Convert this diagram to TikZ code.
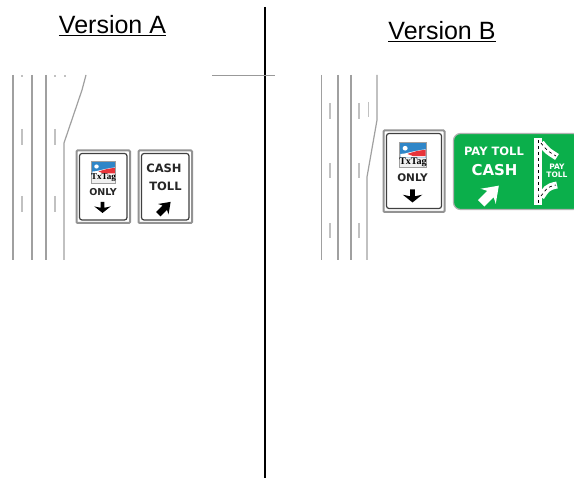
\documentclass[tikz,border=0pt]{standalone}
\usepackage{fontspec}
\setmainfont{Liberation Sans}
\newfontfamily\signfont{DejaVu Sans}
\newfontfamily\tagfont{Liberation Serif}
\definecolor{signgreen}{HTML}{0BAF4B}
\definecolor{tagblue}{HTML}{2F86C8}
\definecolor{tagred}{HTML}{E8343A}
\definecolor{roadgray}{HTML}{A0A0A0}
\tikzset{
  title/.style={font=\fontsize{25}{28}\selectfont,inner sep=0pt,text=black},
  road/.style={draw=roadgray,line width=1.2pt},
  lanedash/.style={draw=roadgray!65,line width=1.3pt},
  signouter/.style={draw=gray!85,line width=2pt,fill=white,rounded corners=1pt},
  signinner/.style={draw=black!75,line width=1.2pt,rounded corners=2.5pt},
  blacktext/.style={text=black!85,inner sep=0pt},
  whitetext/.style={text=white,inner sep=0pt},
}
\newcommand{\txlogo}[4]{% x y w h
  \begin{scope}[shift={(#1,#2)},x=#3pt,y=-#4pt]
    \fill[gray!75] (0,0) rectangle (1,1);
    \fill[black!6] (0.05,0.6) rectangle (0.95,0.96);
    \fill[tagblue] (0.05,0.04) rectangle (0.95,0.6);
    \fill[white] (0.05,0.6) -- (0.05,0.46) .. controls (0.25,0.46) and (0.4,0.36) .. (0.95,0.28) -- (0.95,0.6) -- cycle;
    \fill[tagred] (0.3,0.46) .. controls (0.5,0.38) and (0.7,0.32) .. (0.95,0.3) -- (0.95,0.54) -- (0.5,0.54) -- cycle;
    \fill[white] (0.22,0.24) circle (0.09);
  \end{scope}
}
% colour x y rotation size headhalfwidth
\newcommand{\sarrow}[6]{%
  \fill[#1,shift={(#2,#3)},rotate=#4,scale=#5]
    (-1,-.36) -- (.05,-.36) -- (-.2,-#6) -- (1,0) -- (-.2,#6) -- (.05,.36) -- (-1,.36) -- cycle;
}
\begin{document}
\begin{tikzpicture}[x=1pt,y=-1pt]
\useasboundingbox[fill=white] (0,0) rectangle (574,478);
% titles
\node[title] (ta) at (112.5,26) {\underline{Version A}};
\node[title] (tb) at (442,32) {\underline{Version B}};
% divider
\coordinate (d1) at (265,7); \coordinate (d2) at (265,478);
\draw[line width=2.4pt] (d1) -- (d2);
\coordinate (h1) at (212,75.5); \coordinate (h2) at (275,75.5);
\draw[draw=gray!80,line width=0.7pt] (h1) -- (h2);
% left road
\foreach \x in {13,32,46} \draw[road] (\x,75) -- (\x,260);
\draw[road] (64,260) -- (64,143) -- (82,90) -- (86,75);
\foreach \x in {22,55} {
  \draw[lanedash] (\x,129) -- (\x,145);
  \draw[lanedash] (\x,196) -- (\x,212);
  \draw[lanedash] (\x,75) -- (\x,77);
}
\draw[lanedash] (65,75) -- (65,77);
% right road
\foreach \x in {321.5,338,351} \draw[road] (\x,75) -- (\x,260);
\draw[road] (377,75) -- (377,120) -- (367,177) -- (367,260);
\foreach \x in {330,359} {
  \draw[lanedash] (\x,103) -- (\x,119);
  \draw[lanedash] (\x,163) -- (\x,178);
  \draw[lanedash] (\x,223) -- (\x,238);
}
\draw[lanedash] (368.5,102) -- (368.5,117);
% sign A1
\draw[signouter] (76.5,150.5) rectangle (130,223);
\draw[signinner] (79.5,153.5) rectangle (127,220);
\txlogo{91}{161}{25}{23}
\node[font=\tagfont\bfseries\fontsize{9}{10}\selectfont,inner sep=0pt] (la) at (103.5,178) {TxTag};
\node[blacktext,font=\signfont\bfseries\fontsize{9.5}{11}\selectfont] (oa) at (103,192.5) {ONLY};
\sarrow{black}{102.5}{207.5}{-90}{5.5}{1.5}
% sign A2
\draw[signouter] (138.5,150.5) rectangle (192,223);
\draw[signinner] (141.5,153.5) rectangle (189,220);
\node[blacktext,font=\signfont\bfseries\fontsize{11.5}{13}\selectfont] (ca) at (164,168) {CASH};
\node[blacktext,font=\signfont\bfseries\fontsize{11.5}{13}\selectfont] (tola) at (165.5,186) {TOLL};
\sarrow{black}{164.5}{208}{45}{8.7}{.85}
% sign B1
\draw[signouter] (383.5,130.5) rectangle (444.5,212);
\draw[signinner] (386.5,133.5) rectangle (441.5,208.5);
\txlogo{399}{142}{28}{26}
\node[font=\tagfont\bfseries\fontsize{10}{11}\selectfont,inner sep=0pt] (lb) at (413,162) {TxTag};
\node[blacktext,font=\signfont\bfseries\fontsize{10.5}{12}\selectfont] (ob) at (412.5,178) {ONLY};
\sarrow{black}{412.5}{196}{-90}{6.5}{1.5}
% sign B2
\draw[draw=gray!60,line width=1.2pt,fill=signgreen,rounded corners=7pt] (453.5,133.5) rectangle (580,209.5);
\node[whitetext,font=\signfont\bfseries\fontsize{11.5}{13}\selectfont] (pb) at (494,151) {PAY TOLL};
\node[whitetext,font=\signfont\bfseries\fontsize{15}{17}\selectfont] (cb) at (494.5,170) {CASH};
\sarrow{white}{490}{194.5}{45}{12.5}{.85}
% interchange
\fill[white] (534,138) rectangle (542,205);
\draw[black,line width=0.9pt,dash pattern=on 3pt off 3pt] (538,140) -- (538,204);
\draw[white,line width=7pt] (541,143) .. controls (548,152) and (548,151) .. (557,157);
\draw[black,line width=0.7pt,dash pattern=on 3pt off 3pt] (541,143) .. controls (548,152) and (548,151) .. (556,156);
\draw[white,line width=7pt] (541,197) .. controls (546,190) and (546,187) .. (557,185);
\draw[black,line width=0.7pt,dash pattern=on 3pt off 3pt] (541,196) .. controls (546,190) and (546,187) .. (556,185);
\node[whitetext,font=\signfont\bfseries\fontsize{7.5}{8}\selectfont,align=center] (pt) at (557,171) {PAY\\TOLL};
\end{tikzpicture}
\end{document}
